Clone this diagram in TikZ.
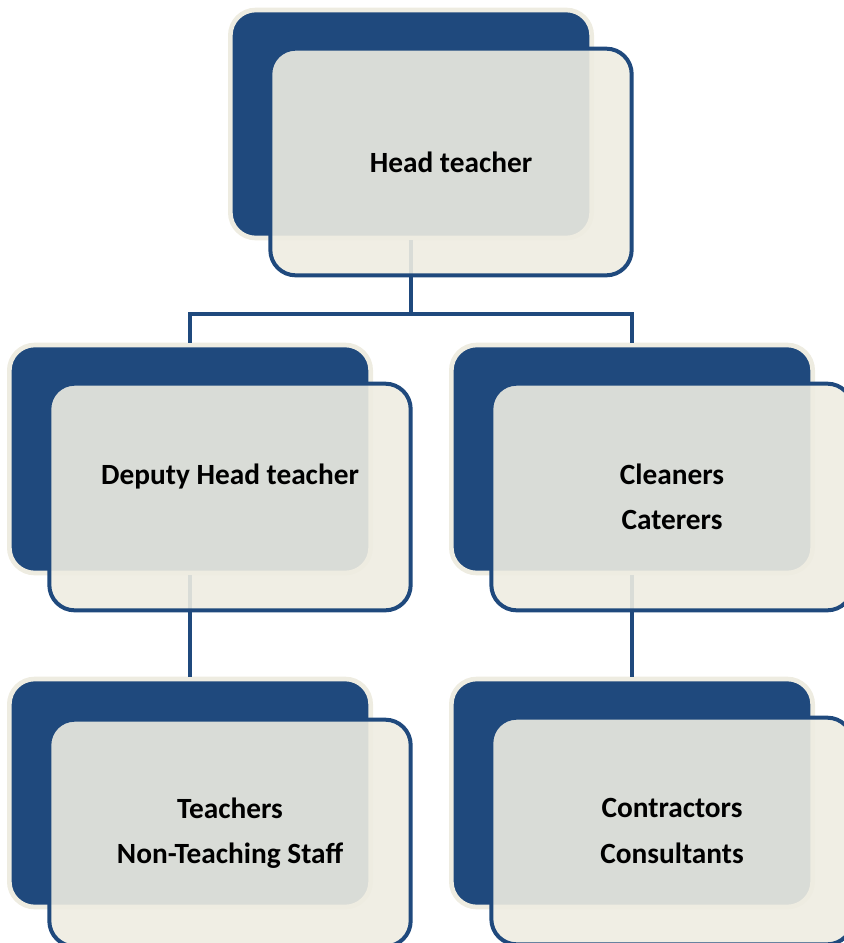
\documentclass[tikz,border=0pt]{standalone}
\usepackage{fontspec}
\setmainfont{Carlito}
\usepackage{xcolor}
\usepackage{tikz}

\definecolor{darkblue}{HTML}{1F497D}
\definecolor{cream}{HTML}{EEECE1}

\tikzset{
  backbox/.style={rectangle,rounded corners=19pt,draw=cream,line width=3.5pt,
    fill=darkblue,minimum width=271pt,minimum height=171pt},
  frontbox/.style={rectangle,rounded corners=19pt,draw=darkblue,line width=3pt,
    fill=cream,fill opacity=0.9,text opacity=1,minimum width=271pt,
    minimum height=170pt,align=center,
    font=\bfseries\fontsize{22}{34}\selectfont},
  link/.style={draw=darkblue,line width=3.2pt}
}

\begin{document}
\begin{tikzpicture}[x=0.75pt,y=-0.75pt]
  \useasboundingbox (0,0) rectangle (843,943);

  % 後ろの箱
  \node[backbox] (headback) at (411,124) {};
  \node[backbox] (deputyback) at (190,459) {};
  \node[backbox] (cleanersback) at (632,459) {};
  \node[backbox] (teachersback) at (190,793) {};
  \node[backbox] (contractorsback) at (632,793) {};

  % 連結線
  \draw[link] (headback.south) -- ++(0,74) coordinate (split) -| (deputyback.north);
  \draw[link] (split) -| (cleanersback.north);
  \draw[link] (deputyback.south) -- (teachersback.north);
  \draw[link] (cleanersback.south) -- (contractorsback.north);

  % 前の箱
  \node[frontbox] (headfront) at (451,162) {Head teacher};
  \node[frontbox] (deputyfront) at (230,497) {Deputy Head teacher\\~};
  \node[frontbox] (cleanersfront) at (672,497) {Cleaners\\Caterers};
  \node[frontbox] (teachersfront) at (230,833) {Teachers\\Non-Teaching Staff};
  \node[frontbox] (contractorsfront) at (672,831) {Contractors\\Consultants};
\end{tikzpicture}
\end{document}
